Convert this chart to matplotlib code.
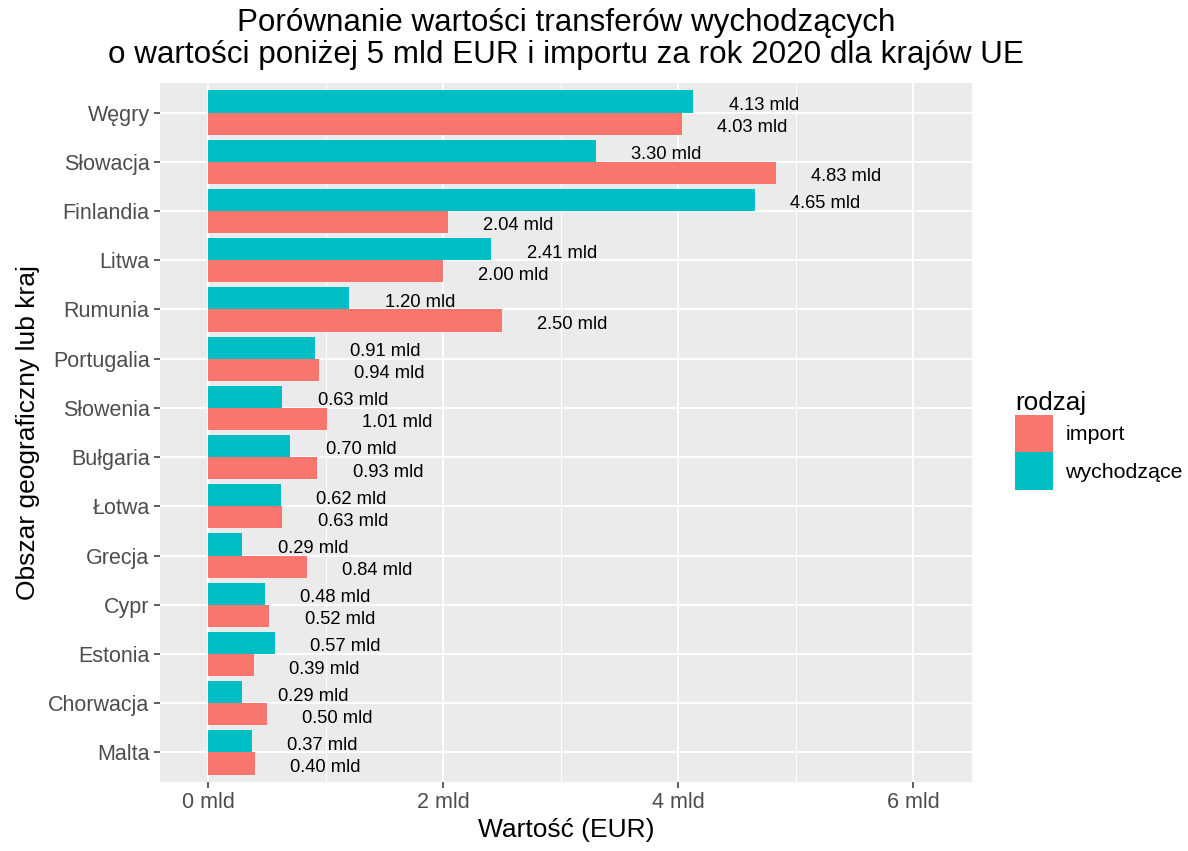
import matplotlib.pyplot as plt
import numpy as np

plt.rcParams['font.family'] = ['Liberation Sans', 'DejaVu Sans']

# Data
countries = ['Węgry', 'Słowacja', 'Finlandia', 'Litwa', 'Rumunia', 'Portugalia', 'Słowenia',
             'Bułgaria', 'Łotwa', 'Grecja', 'Cypr', 'Estonia', 'Chorwacja', 'Malta']
wychodzace = [4.13, 3.30, 4.65, 2.41, 1.20, 0.91, 0.63, 0.70, 0.62, 0.29, 0.48, 0.57, 0.29, 0.37]
import_vals = [4.03, 4.83, 2.04, 2.00, 2.50, 0.94, 1.01, 0.93, 0.63, 0.84, 0.52, 0.39, 0.50, 0.40]

red = '#F8766D'
teal = '#00BFC4'

fig = plt.figure(figsize=(11.88, 8.51), dpi=100)
ax = fig.add_axes([160/1188, 1 - 782/851, (972 - 160)/1188, (782 - 83)/851])
ax.set_facecolor('#EBEBEB')

y = np.arange(len(countries))
h = 0.45
ax.barh(y - h/2, wychodzace, height=h, color=teal, zorder=3, label='wychodzące')
ax.barh(y + h/2, import_vals, height=h, color=red, zorder=3, label='import')

for yi, w, im in zip(y, wychodzace, import_vals):
    ax.text(w + 0.6, yi - h/2 + 0.08, f'{w:.2f} mld', ha='center', va='center', fontsize=13.2, color='black', zorder=4)
    ax.text(im + 0.6, yi + h/2 + 0.08, f'{im:.2f} mld', ha='center', va='center', fontsize=13.2, color='black', zorder=4)

ax.set_xlim(-0.41, 6.5)
ax.set_ylim(len(countries) - 0.4, -0.6)
ax.set_xticks([0, 2, 4, 6])
ax.set_xticklabels(['0 mld', '2 mld', '4 mld', '6 mld'])
ax.set_xticks([1, 3, 5], minor=True)
ax.set_yticks(y)
ax.set_yticklabels(countries)

ax.grid(True, which='major', color='white', linewidth=1.4, zorder=0)
ax.grid(True, which='minor', axis='x', color='white', linewidth=0.7, zorder=0)
ax.tick_params(axis='both', which='major', colors='#333333', labelcolor='#4D4D4D', labelsize=15.5, length=4, width=1.1)
ax.tick_params(axis='x', which='minor', length=0)
for s in ax.spines.values():
    s.set_visible(False)

ax.set_xlabel('Wartość (EUR)', fontsize=19, labelpad=3)
ax.set_ylabel('Obszar geograficzny lub kraj', fontsize=19, labelpad=6)
fig.text(566/1188, 1 - 8/851,
         'Porównanie wartości transferów wychodzących\no wartości poniżej 5 mld EUR i importu za rok 2020 dla krajów UE',
         fontsize=22.6, ha='center', va='top', linespacing=1.1)

handles, labels = ax.get_legend_handles_labels()
leg = fig.legend(handles[::-1], labels[::-1], title='rodzaj', loc='upper left',
                 bbox_to_anchor=(996/1188, 1 - 372/851), frameon=False, fontsize=15.4,
                 title_fontsize=18.8, handlelength=1.75, handleheight=2.3, labelspacing=0.0,
                 handletextpad=0.6)
leg._legend_box.align = 'left'

plt.savefig('out.png', dpi=100)
